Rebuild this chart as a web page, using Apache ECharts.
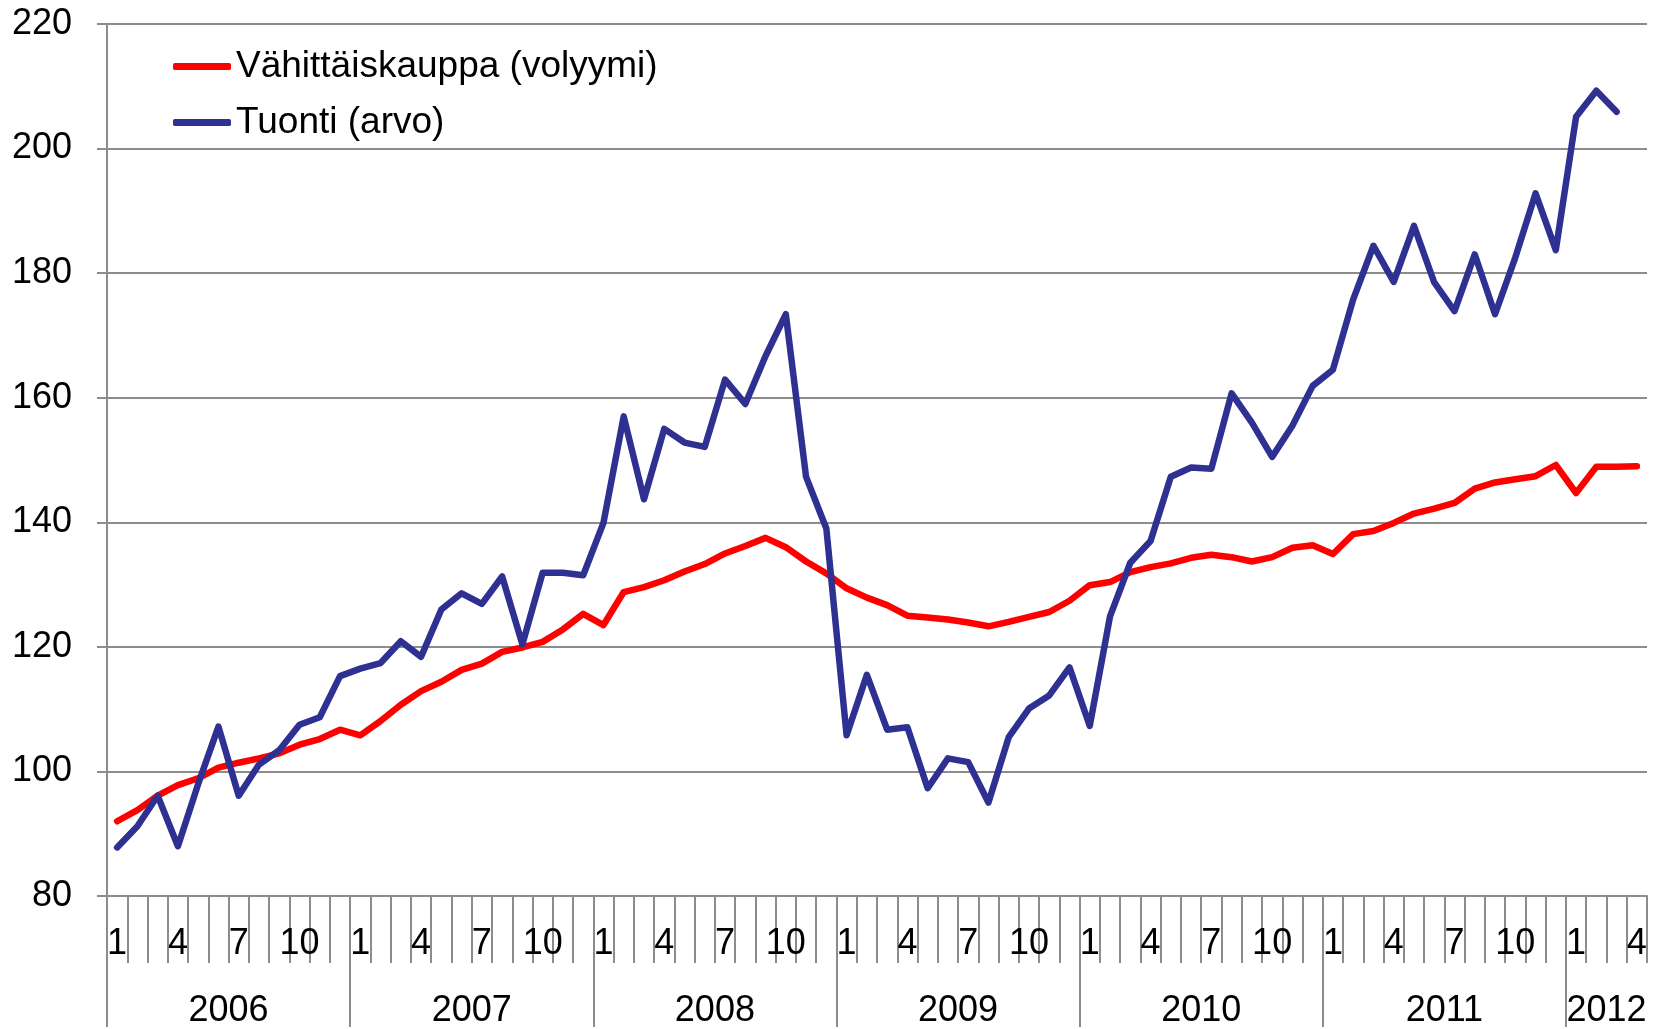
<!DOCTYPE html>
<html>
<head>
<meta charset="utf-8">
<script src="https://cdn.jsdelivr.net/npm/echarts@6/dist/echarts.min.js"></script>
<style>
  html, body { margin: 0; padding: 0; background: #fff; }
  #chart { width: 1661px; height: 1029px; }
</style>
</head>
<body>
<div id="chart"></div>
<script>
// vuodet ja kuukausien määrä per vuosi
var years = ['2006', '2007', '2008', '2009', '2010', '2011', '2012']
var monthsInYear = [12, 12, 12, 12, 12, 12, 4]
var seriesNames = ['Vähittäiskauppa (volyymi)', 'Tuonti (arvo)']

// Vähittäiskauppa (volyymi), 2006/1 - 2012/4
var retail = [
  92.0, 93.8, 96.1, 97.8, 98.9, 100.6, 101.4, 102.1, 102.9, 104.3, 105.2, 106.7,
  105.8, 108.1, 110.7, 112.9, 114.4, 116.3, 117.3, 119.2, 119.9, 120.8, 122.8, 125.3,
  123.5, 128.8, 129.6, 130.7, 132.1, 133.3, 135.0, 136.2, 137.5, 136.0, 133.7, 131.8,
  129.4, 127.9, 126.7, 125.0, 124.7, 124.4, 123.9, 123.3, 124.0, 124.8, 125.6, 127.4,
  129.9, 130.4, 132.0, 132.8, 133.4, 134.3, 134.8, 134.4, 133.7, 134.4, 135.9, 136.3,
  134.9, 138.1, 138.6, 139.9, 141.4, 142.2, 143.1, 145.4, 146.4, 146.9, 147.4, 149.2,
  144.7, 148.9, 148.9, 149.0
]

// Tuonti (arvo), 2006/1 - 2012/3
var imports = [
  87.8, 91.2, 96.1, 88.0, 98.0, 107.2, 96.1, 101.1, 103.4, 107.5, 108.7, 115.3,
  116.5, 117.4, 120.9, 118.4, 126.0, 128.6, 126.9, 131.3, 120.4, 131.9, 131.9, 131.5,
  139.9, 157.0, 143.7, 155.0, 152.8, 152.1, 162.9, 159.0, 166.7, 173.4, 147.3, 139.0,
  105.8, 115.5, 106.7, 107.1, 97.3, 102.1, 101.5, 95.0, 105.5, 110.1, 112.2, 116.7,
  107.3, 124.9, 133.5, 137.0, 147.3, 148.8, 148.6, 160.7, 156.0, 150.5, 155.5, 161.9,
  164.5, 175.8, 184.4, 178.6, 187.6, 178.5, 173.9, 183.0, 173.4, 182.5, 192.8, 183.7,
  205.1, 209.3, 205.9
]

var months = []
var yearStart = []
var yearMid = []
var count = 0
for (var y = 0; y < years.length; y++) {
  yearStart.push(count)
  yearMid.push(count + monthsInYear[y] / 2)
  for (var m = 1; m <= monthsInYear[y]; m++) {
    months.push(String(m))
  }
  count += monthsInYear[y]
}

var font = '"Liberation Sans", Arial, sans-serif'
var gray = '#8c8c8c'

var Options = {
  animation: false,
  backgroundColor: '#fff',
  grid: { left: 107, right: 14, top: 24, bottom: 131 },
  legend: {
    orient: 'vertical',
    left: 173,
    top: 48,
    padding: 0,
    itemGap: 19,
    itemWidth: 58,
    itemHeight: 7,
    icon: 'roundRect',
    textStyle: { fontFamily: font, fontSize: 37, color: '#000' },
    data: seriesNames
  },
  xAxis: [{
    type: 'category',
    data: months,
    boundaryGap: true,
    axisLine: { show: true, lineStyle: { color: gray, width: 2 } },
    axisTick: { show: true, interval: 0, length: 67, lineStyle: { color: gray, width: 2 } },
    axisLabel: {
      interval: function (index, value) { return (index % 12) % 3 === 0 },
      fontFamily: font,
      fontSize: 36,
      color: '#000',
      margin: 30
    }
  }, {
    type: 'value',
    position: 'bottom',
    min: 0,
    max: count,
    axisLine: { show: false },
    splitLine: { show: false },
    axisTick: {
      show: true,
      length: 131,
      customValues: yearStart,
      lineStyle: { color: gray, width: 2 }
    },
    axisLabel: {
      customValues: yearMid,
      formatter: function (v) { return years[yearMid.indexOf(v)] },
      fontFamily: font,
      fontSize: 36,
      color: '#000',
      margin: 97
    }
  }],
  yAxis: {
    type: 'value',
    min: 80,
    max: 220,
    interval: 20,
    axisLine: { show: true, lineStyle: { color: gray, width: 2 } },
    axisTick: { show: true, length: 10, lineStyle: { color: gray, width: 2 } },
    splitLine: { lineStyle: { color: gray, width: 2 } },
    axisLabel: { fontFamily: font, fontSize: 36, color: '#000', margin: 35 }
  },
  series: [{
    name: seriesNames[0],
    type: 'line',
    xAxisIndex: 0,
    data: retail,
    showSymbol: false,
    symbol: 'none',
    itemStyle: { color: '#ff0000' },
    lineStyle: { color: '#ff0000', width: 6.5, cap: 'round', join: 'round' }
  }, {
    name: seriesNames[1],
    type: 'line',
    xAxisIndex: 0,
    data: imports,
    showSymbol: false,
    symbol: 'none',
    itemStyle: { color: '#2e3192' },
    lineStyle: { color: '#2e3192', width: 6.5, cap: 'round', join: 'round' }
  }]
}

var Chart = echarts.init(document.getElementById('chart'))
Chart.setOption(Options)
</script>
</body>
</html>
